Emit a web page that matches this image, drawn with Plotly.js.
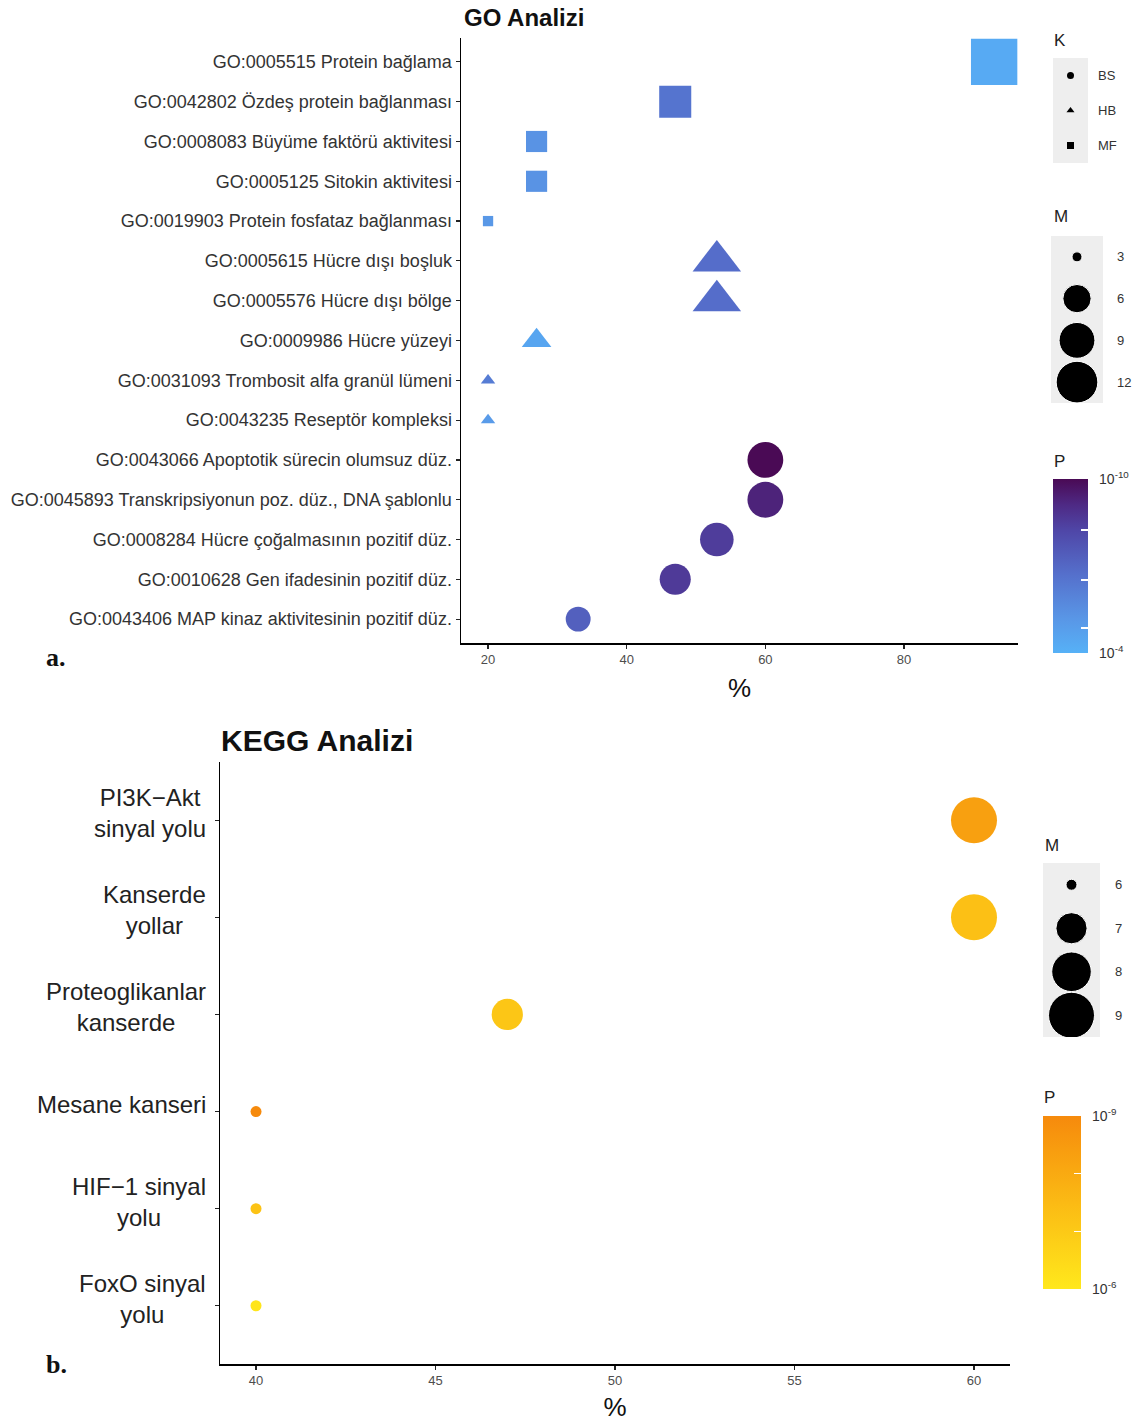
<!DOCTYPE html>
<html><head><meta charset="utf-8">
<script src="https://cdn.plot.ly/plotly-3.0.1.min.js"></script>
<style>html,body{margin:0;padding:0;background:#fff}#chart{width:1139px;height:1422px}</style>
</head><body><div id="chart"></div>
<script>
// ---------- GO data ----------
const goTerms = [
  'GO:0005515 Protein bağlama',
  'GO:0042802 Özdeş protein bağlanması',
  'GO:0008083 Büyüme faktörü aktivitesi',
  'GO:0005125 Sitokin aktivitesi',
  'GO:0019903 Protein fosfataz bağlanması',
  'GO:0005615 Hücre dışı boşluk',
  'GO:0005576 Hücre dışı bölge',
  'GO:0009986 Hücre yüzeyi',
  'GO:0031093 Trombosit alfa granül lümeni',
  'GO:0043235 Reseptör kompleksi',
  'GO:0043066 Apoptotik sürecin olumsuz düz.',
  'GO:0045893 Transkripsiyonun poz. düz., DNA şablonlu',
  'GO:0008284 Hücre çoğalmasının pozitif düz.',
  'GO:0010628 Gen ifadesinin pozitif düz.',
  'GO:0043406 MAP kinaz aktivitesinin pozitif düz.'
];
const goCategory = ['MF','MF','MF','MF','MF','HB','HB','HB','HB','HB','BS','BS','BS','BS','BS'];
const goPercent = [93, 47, 27, 27, 20, 53, 53, 27, 20, 20, 60, 60, 53, 47, 33];
const goCount = [14, 7, 4, 4, 3, 8, 8, 4, 3, 3, 9, 9, 8, 7, 5];
const goPValue = [5e-5, 3e-7, 5e-6, 5e-6, 8e-6, 1.6e-7, 1.6e-7, 3e-5, 6e-7, 1e-5, 1e-10, 5e-10, 3e-9, 2.5e-9, 5e-8];

// ---------- KEGG data ----------
const keggPathways = [
  'PI3K−Akt<br>sinyal yolu',
  'Kanserde<br>yollar',
  'Proteoglikanlar<br>kanserde',
  'Mesane kanseri',
  'HIF−1 sinyal<br>yolu',
  'FoxO sinyal<br>yolu'
];
const keggPercent = [60, 60, 47, 40, 40, 40];
const keggCount = [9, 9, 7, 6, 6, 6];
const keggPValue = [5e-9, 5e-8, 8e-8, 1e-9, 6e-8, 8e-7];

// ---------- legends / ticks ----------
const categoryLegend = ['BS', 'HB', 'MF'];
const goSizeLegend = [3, 6, 9, 12];
const keggSizeLegend = [6, 7, 8, 9];
const goTicks = [20, 40, 60, 80];
const keggTicks = [40, 45, 50, 55, 60];
const goColorTicks = [4, 4.86, 6.52, 8.24, 10];
const goColorTickText = ['10<sup>-4</sup>', '', '', '', '10<sup>-10</sup>'];
const keggColorTicks = [6, 7, 8, 9];
const keggColorTickText = ['10<sup>-6</sup>', '', '', '10<sup>-9</sup>'];

// ---------- helpers ----------
const W = 1139, H = 1422;
const px = v => v / W;
const py = v => 1 - v / H;
const nlog = p => -Math.log10(p);
const pad = t => (t ? '\u00a0\u00a0' + t : t);
const symbolOf = {BS: 'circle', HB: 'triangle-up', MF: 'square'};
const symFactor = {'circle': 1, 'triangle-up': 1.25, 'square': 1.03};
const goMin = Math.min(...goCount), goMax = Math.max(...goCount);
const keggMin = Math.min(...keggCount), keggMax = Math.max(...keggCount);
const sizeGO = m => 10 + 35 * Math.sqrt((m - goMin) / (goMax - goMin));
const sizeKEGG = m => 11 + 35 * Math.sqrt((m - keggMin) / (keggMax - keggMin));

const goScale = [[0, '#56B1F7'], [0.2, '#5996E6'], [0.45, '#5570CC'], [0.7, '#4F47A8'], [0.85, '#4E2A85'], [1, '#4A0A55']];
const keggScale = [[0, '#FFE81C'], [0.5, '#FBBA14'], [1, '#F68A0C']];

const FONT = '"Liberation Sans", Arial, sans-serif';

const traces = [];

traces.push({
  type: 'scatter', mode: 'markers', xaxis: 'x', yaxis: 'y',
  x: goPercent, y: goTerms,
  marker: {
    symbol: goCategory.map(k => symbolOf[k]),
    size: goCount.map((m, i) => sizeGO(m) * symFactor[symbolOf[goCategory[i]]]),
    color: goPValue.map(nlog), cmin: 4, cmax: 10, colorscale: goScale,
    line: {width: 0}, opacity: 1,
    showscale: true,
    colorbar: {
      x: px(1053), xanchor: 'left', xref: 'paper', y: py(479), yanchor: 'top', yref: 'paper',
      lenmode: 'pixels', len: 174, thicknessmode: 'pixels', thickness: 35,
      xpad: 0, ypad: 0, outlinewidth: 0,
      tickvals: goColorTicks, ticktext: goColorTickText.map(pad), tickmode: 'array',
      ticks: 'inside', ticklen: 7, tickcolor: '#fff', tickwidth: 1.5,
      tickfont: {size: 14, color: '#333', family: FONT}, title: {text: ''}
    }
  },
  hoverinfo: 'x+y', showlegend: false
});

traces.push({
  type: 'scatter', mode: 'markers', xaxis: 'x2', yaxis: 'y2',
  x: keggPercent, y: keggPathways,
  marker: {
    symbol: 'circle',
    size: keggCount.map(sizeKEGG),
    color: keggPValue.map(nlog), cmin: 6, cmax: 9, colorscale: keggScale,
    line: {width: 0}, opacity: 1,
    showscale: true,
    colorbar: {
      x: px(1043), xanchor: 'left', xref: 'paper', y: py(1116), yanchor: 'top', yref: 'paper',
      lenmode: 'pixels', len: 173, thicknessmode: 'pixels', thickness: 38,
      xpad: 0, ypad: 0, outlinewidth: 0,
      tickvals: keggColorTicks, ticktext: keggColorTickText.map(pad), tickmode: 'array',
      ticks: 'inside', ticklen: 7, tickcolor: '#fff', tickwidth: 1.5,
      tickfont: {size: 14, color: '#333', family: FONT}, title: {text: ''}
    }
  },
  hoverinfo: 'x+y', showlegend: false
});

// legend keys
traces.push({
  type: 'scatter', mode: 'markers', xaxis: 'x3', yaxis: 'y3',
  x: categoryLegend.map(() => 0), y: categoryLegend,
  marker: {symbol: categoryLegend.map(k => symbolOf[k]), size: 7, color: '#000', opacity: 1},
  hoverinfo: 'skip', showlegend: false
});
traces.push({
  type: 'scatter', mode: 'markers', xaxis: 'x4', yaxis: 'y4',
  x: goSizeLegend.map(() => 0), y: goSizeLegend.map(String),
  marker: {symbol: 'circle', size: goSizeLegend.map(sizeGO), color: '#000', opacity: 1},
  hoverinfo: 'skip', showlegend: false
});
traces.push({
  type: 'scatter', mode: 'markers', xaxis: 'x5', yaxis: 'y5',
  x: keggSizeLegend.map(() => 0), y: keggSizeLegend.map(String),
  marker: {symbol: 'circle', size: keggSizeLegend.map(sizeKEGG), color: '#000', opacity: 1},
  hoverinfo: 'skip', showlegend: false
});

const axisBase = {
  showline: true, linecolor: '#000', linewidth: 1.5, showgrid: false, zeroline: false,
  ticks: 'outside', ticklen: 4, tickwidth: 1.2, tickcolor: '#222', automargin: false, fixedrange: true
};
const legY = (dom, cats, anchor, standoff) => ({
  domain: dom, type: 'category', categoryorder: 'array', categoryarray: cats,
  range: [cats.length - 0.5, -0.5], side: 'right', showgrid: false, zeroline: false, showline: false,
  ticks: '', ticklabelstandoff: standoff, tickfont: {size: 13, color: '#333', family: FONT},
  anchor: anchor, automargin: false, fixedrange: true
});
const legX = (dom, anchor) => ({domain: dom, range: [-1, 1], visible: false, anchor: anchor, fixedrange: true});

const layout = {
  width: W, height: H,
  margin: {l: 0, r: 0, t: 0, b: 0},
  paper_bgcolor: '#fff', plot_bgcolor: 'rgba(0,0,0,0)',
  font: {family: FONT, color: '#333'},
  showlegend: false,
  xaxis: Object.assign({}, axisBase, {
    domain: [px(461), px(1018)], range: [16.1, 96.44], tickmode: 'array', tickvals: goTicks,
    tickfont: {size: 13, color: '#4d4d4d'}, anchor: 'y',
    title: {text: '%', font: {size: 26, color: '#111'}, standoff: 12}
  }),
  yaxis: Object.assign({}, axisBase, {
    domain: [py(643), py(38)], type: 'category', categoryorder: 'array', categoryarray: goTerms,
    range: [goTerms.length - 0.4, -0.6], tickfont: {size: 18, color: '#333'}, anchor: 'x'
  }),
  xaxis2: Object.assign({}, axisBase, {
    domain: [px(220), px(1010)], range: [38.997, 61.003], tickmode: 'array', tickvals: keggTicks,
    tickfont: {size: 13, color: '#4d4d4d'}, anchor: 'y2',
    title: {text: '%', font: {size: 26, color: '#111'}, standoff: 11}
  }),
  yaxis2: Object.assign({}, axisBase, {
    domain: [py(1364), py(762)], type: 'category', categoryorder: 'array', categoryarray: keggPathways,
    range: [keggPathways.length - 0.4, -0.6], showticklabels: false, anchor: 'x2'
  }),
  xaxis3: legX([px(1053), px(1088)], 'y3'),
  yaxis3: legY([py(163), py(58)], categoryLegend, 'x3', 9),
  xaxis4: legX([px(1051), px(1103)], 'y4'),
  yaxis4: legY([py(403), py(236)], goSizeLegend.map(String), 'x4', 13),
  xaxis5: legX([px(1043), px(1100)], 'y5'),
  yaxis5: legY([py(1037), py(863)], keggSizeLegend.map(String), 'x5', 14),
  shapes: ['3', '4', '5'].map(n => ({
    type: 'rect', xref: 'x' + n + ' domain', yref: 'y' + n + ' domain',
    x0: 0, x1: 1, y0: 0, y1: 1, fillcolor: '#eeeeee', line: {width: 0}, layer: 'below'
  })),
  annotations: [
    {text: '<b>GO Analizi</b>', x: px(462), y: py(17), xref: 'paper', yref: 'paper', xanchor: 'left', yanchor: 'middle', showarrow: false, font: {size: 24, color: '#111'}},
    {text: '<b>KEGG Analizi</b>', x: px(219), y: py(740), xref: 'paper', yref: 'paper', xanchor: 'left', yanchor: 'middle', showarrow: false, font: {size: 30, color: '#111'}},
    {text: '<b>a.</b>', x: px(44), y: py(657), xref: 'paper', yref: 'paper', xanchor: 'left', yanchor: 'middle', showarrow: false, font: {size: 26, color: '#111', family: '"Liberation Serif", "Times New Roman", serif'}},
    {text: '<b>b.</b>', x: px(44), y: py(1364), xref: 'paper', yref: 'paper', xanchor: 'left', yanchor: 'middle', showarrow: false, font: {size: 26, color: '#111', family: '"Liberation Serif", "Times New Roman", serif'}},
    {text: 'K', x: px(1052), y: py(40), xref: 'paper', yref: 'paper', xanchor: 'left', yanchor: 'middle', showarrow: false, font: {size: 17, color: '#222'}},
    {text: 'M', x: px(1052), y: py(217), xref: 'paper', yref: 'paper', xanchor: 'left', yanchor: 'middle', showarrow: false, font: {size: 17, color: '#222'}},
    {text: 'P', x: px(1052), y: py(461), xref: 'paper', yref: 'paper', xanchor: 'left', yanchor: 'middle', showarrow: false, font: {size: 17, color: '#222'}},
    {text: 'M', x: px(1043), y: py(845), xref: 'paper', yref: 'paper', xanchor: 'left', yanchor: 'middle', showarrow: false, font: {size: 17, color: '#222'}},
    {text: 'P', x: px(1042), y: py(1097), xref: 'paper', yref: 'paper', xanchor: 'left', yanchor: 'middle', showarrow: false, font: {size: 17, color: '#222'}}
  ].concat(keggPathways.map(p => ({
    text: p, x: px(208), y: p, xref: 'paper', yref: 'y2', xanchor: 'right', yanchor: 'middle',
    yshift: 7, align: 'center', showarrow: false, font: {size: 24, color: '#222'}
  })))
};

Plotly.newPlot('chart', traces, layout, {displayModeBar: false, staticPlot: true});
</script>
</body></html>
